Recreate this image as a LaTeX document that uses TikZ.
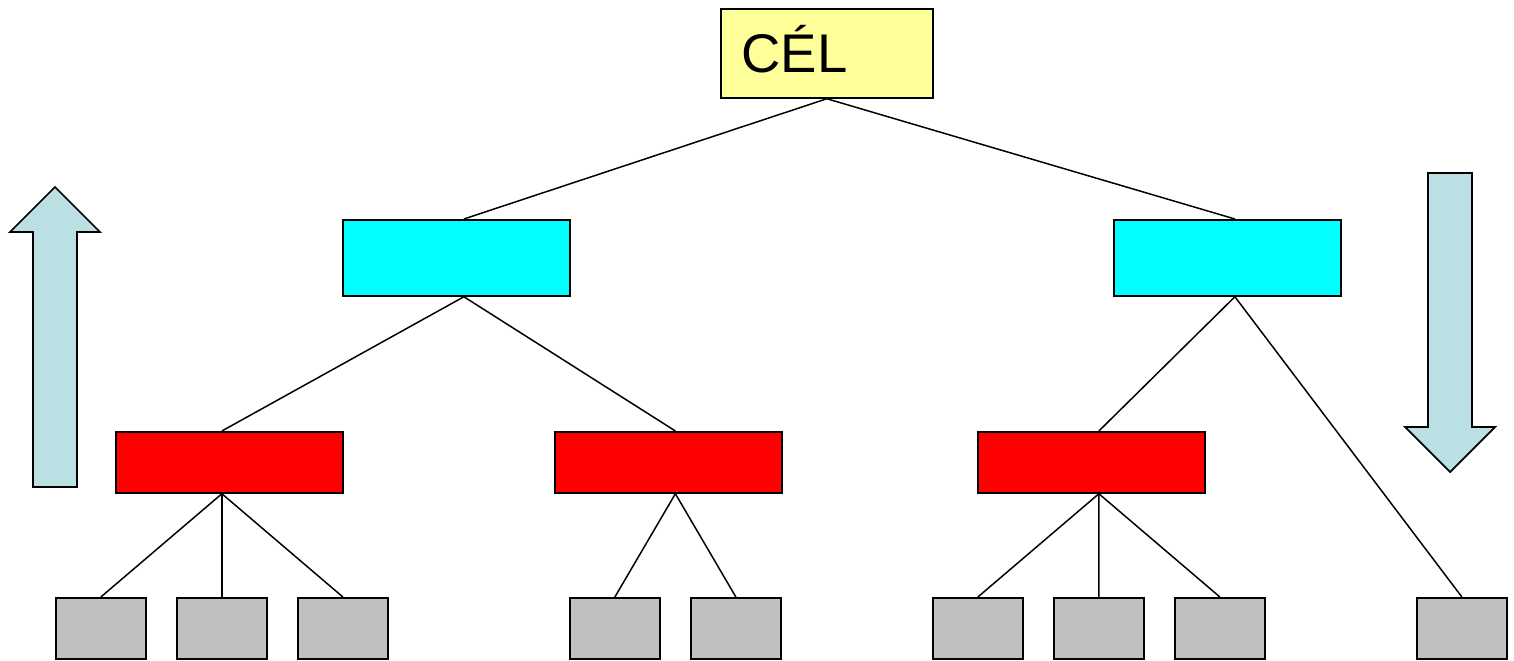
\documentclass[tikz,border=0pt]{standalone}
\usepackage{fontspec}
\setmainfont{Liberation Sans}
\definecolor{celyellow}{HTML}{FFFF99}
\definecolor{arrowblue}{HTML}{BBE0E3}
\definecolor{boxgray}{HTML}{C0C0C0}
\definecolor{boxcyan}{HTML}{00FFFF}
\definecolor{boxred}{HTML}{FF0000}
\begin{document}
\begin{tikzpicture}[x=0.02cm,y=-0.02cm,
  box/.style={draw=black,line width=1pt,inner sep=0pt,anchor=north west},
  goalbox/.style={box,fill=celyellow,minimum width=212*0.02cm,minimum height=89*0.02cm},
  cyanbox/.style={box,fill=boxcyan,minimum width=227*0.02cm,minimum height=76*0.02cm},
  redbox/.style={box,fill=boxred,minimum width=227*0.02cm,minimum height=61*0.02cm},
  graybox/.style={box,fill=boxgray,minimum width=90*0.02cm,minimum height=61*0.02cm},
  link/.style={draw=black,line width=0.85pt},
  bigarrow/.style={draw=black,line width=1pt,fill=arrowblue,line join=miter}]
\useasboundingbox (0,0) rectangle (1514,661);
% goal
\node[goalbox] (cel) at (720,8) {};
\node[anchor=base west,font=\fontsize{31}{37}\selectfont,inner sep=0pt] (celtext) at (741,73) {CÉL};
% level 1
\node[cyanbox] (c1) at (342,219) {};
\node[cyanbox] (c2) at (1113,219) {};
% level 2
\node[redbox] (r1) at (115,431) {};
\node[redbox] (r2) at (554,431) {};
\node[redbox] (r3) at (977,431) {};
% level 3
\node[graybox] (g1) at (55,597) {};
\node[graybox] (g2) at (176,597) {};
\node[graybox] (g3) at (297,597) {};
\node[graybox] (g4) at (569,597) {};
\node[graybox] (g5) at (690,597) {};
\node[graybox] (g6) at (932,597) {};
\node[graybox] (g7) at (1053,597) {};
\node[graybox] (g8) at (1174,597) {};
\node[graybox] (g9) at (1416,597) {};
% connection points
\coordinate (c1t) at ([xshift=7.5*0.02cm]c1.north);
\coordinate (c1b) at ([xshift=7.5*0.02cm]c1.south);
\coordinate (c2t) at ([xshift=7.5*0.02cm]c2.north);
\coordinate (c2b) at ([xshift=7.5*0.02cm]c2.south);
\coordinate (r1t) at ([xshift=-7.5*0.02cm]r1.north);
\coordinate (r1b) at ([xshift=-7.5*0.02cm]r1.south);
\coordinate (r2t) at ([xshift=7*0.02cm]r2.north);
\coordinate (r2b) at ([xshift=7*0.02cm]r2.south);
\coordinate (r3t) at ([xshift=7.5*0.02cm]r3.north);
\coordinate (r3b) at ([xshift=7.5*0.02cm]r3.south);
% connectors
\draw[link] (cel.south) -- (c1t);
\draw[link] (cel.south) -- (c2t);
\draw[link] (c1b) -- (r1t);
\draw[link] (c1b) -- (r2t);
\draw[link] (c2b) -- (r3t);
\draw[link] (c2b) -- (g9.north);
\draw[link] (r1b) -- (g1.north);
\draw[link] (r1b) -- (g2.north);
\draw[link] (r1b) -- (g3.north);
\draw[link] (r2b) -- (g4.north);
\draw[link] (r2b) -- (g5.north);
\draw[link] (r3b) -- (g6.north);
\draw[link] (r3b) -- (g7.north);
\draw[link] (r3b) -- (g8.north);
% big arrows
\draw[bigarrow] (33,487) -- (33,232) -- (10,232) -- (55,187) -- (100,232) -- (77,232) -- (77,487) -- cycle;
\draw[bigarrow] (1428,173) -- (1428,427) -- (1405,427) -- (1450,472) -- (1495,427) -- (1472,427) -- (1472,173) -- cycle;
\end{tikzpicture}
\end{document}
